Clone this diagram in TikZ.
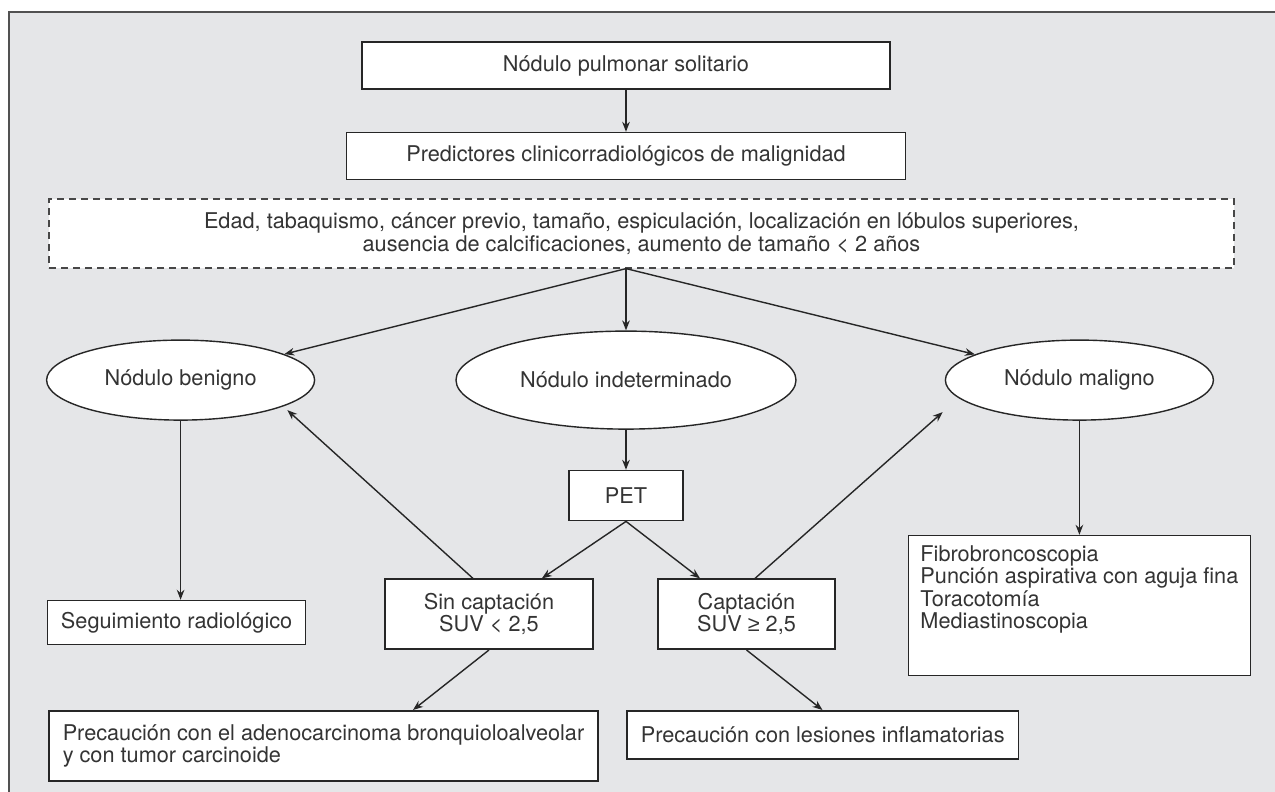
\documentclass[tikz,border=0pt]{standalone}
\usepackage{fontspec}
\setmainfont{TeX Gyre Heros}
\newfontfamily\gefont{Liberation Sans}
\usetikzlibrary{arrows.meta,positioning,shapes.geometric}
\definecolor{panel}{RGB}{229,230,232}
\definecolor{ink}{RGB}{38,38,38}
\definecolor{txt}{RGB}{52,52,52}

\begin{document}
\begin{tikzpicture}[
    node distance=20pt and 20pt,
    font=\fontsize{10.85}{11.2}\selectfont,
    text=txt,
    box/.style={draw=ink, line width=0.8pt, fill=white, align=center, inner sep=4pt},
    oval/.style={draw=ink, ellipse, line width=0.7pt, fill=white, inner sep=0pt, minimum width=134pt, minimum height=40pt},
    critbox/.style={draw=ink!85, dash pattern=on 3.5pt off 2.5pt, line width=0.6pt, fill=white, align=center, minimum width=592.5pt, minimum height=34.5pt},
    arr/.style={-{Stealth[length=5pt, width=3.8pt]}, line width=0.7pt, draw=ink}
]
\useasboundingbox (0,0) rectangle (637.5pt,-396pt);
% panel
\fill[panel] (4.5pt,-6pt) rectangle (650pt,-410pt);
\draw[ink!80, line width=1pt] (4.5pt,-410pt) -- (4.5pt,-6pt) -- (650pt,-6pt);

\node[box, minimum width=264pt, minimum height=23.5pt] (nps) at (313pt,-32.75pt) {Nódulo pulmonar solitario};
\node[box, below=21pt of nps, minimum width=279.5pt, minimum height=23.5pt] (pred) {Predictores clinicorradiológicos de malignidad};
\node[critbox, below=9pt of pred, xshift=7.75pt] (crit) {Edad, tabaquismo, cáncer previo, tamaño, espiculación, localización en lóbulos superiores,\\ ausencia de calcificaciones, aumento de tamaño < 2 años};
\coordinate (fork) at (nps.south |- crit.south);

\node[oval, below=75pt of pred, minimum width=170pt, minimum height=49pt] (ind) {Nódulo indeterminado};
\node[oval, left=70pt of ind] (ben) {Nódulo benigno};
\node[oval, right=74pt of ind] (mal) {Nódulo maligno};

\node[box, below=20pt of ind, minimum width=57pt, minimum height=25pt] (pet) {PET};
\node[box, below=28.5pt of pet, xshift=-68.5pt, minimum width=104pt, minimum height=35pt] (sin) {Sin captación\\ SUV < 2,5};
\node[box, below=28.5pt of pet, xshift=60.25pt, minimum width=88.5pt, minimum height=35pt] (cap) {Captación\\ SUV {\gefont ≥} 2,5};

\node[box, below=89.5pt of ben, xshift=-2pt, minimum width=129pt, minimum height=22pt] (seg) {Seguimiento radiológico};
\node[box, below=57pt of mal, align=left, minimum width=171pt, text depth=18.5pt, inner sep=5pt] (act) {Fibrobroncoscopia\\ Punción aspirativa con aguja fina\\ Toracotomía\\ Mediastinoscopia};

\node[box, below=30pt of sin, xshift=-82.75pt, align=left, minimum width=274.5pt, minimum height=35pt] (adeno) {Precaución con el adenocarcinoma bronquioloalveolar\\ y con tumor carcinoide};
\node[box, align=left, inner xsep=7pt, minimum height=24pt, anchor=north west] (infl) at ([xshift=-60.25pt, yshift=-30pt]cap.south) {Precaución con lesiones inflamatorias};

\draw[arr] (nps) -- (pred);
\draw[arr] (fork) -- (ind);
\draw[arr] (fork) -- (ben);
\draw[arr] (fork) -- (mal);
\draw[arr] (ind) -- (pet);
\draw[arr] (pet.south) -- (sin);
\draw[arr] (pet.south) -- (cap);
\draw[arr] ([xshift=-8pt]sin.north) -- ([xshift=-14pt, yshift=-15pt]ben.east);
\draw[arr] ([xshift=4.25pt]cap.north) -- ([xshift=-1pt, yshift=-16pt]mal.west);
\draw[arr] (ben.south) -- (ben.south |- seg.north);
\draw[arr] (mal) -- (act);
\draw[arr] (sin.south) -- ([xshift=44.75pt]adeno.north);
\draw[arr] (cap.south) -- ([xshift=38pt]cap.south |- infl.north);
\end{tikzpicture}
\end{document}
